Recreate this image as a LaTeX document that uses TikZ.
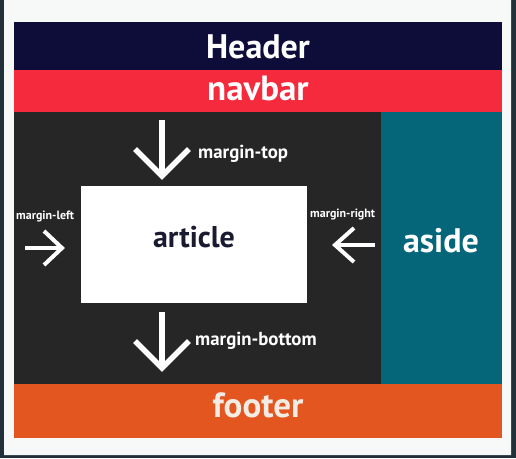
\documentclass[tikz,border=0pt]{standalone}
\usepackage{fontspec}
\usetikzlibrary{calc}
\setmainfont{PT Sans}
\definecolor{frame}{HTML}{22303A}
\definecolor{paper}{HTML}{F7F8F8}
\definecolor{hdr}{HTML}{0E0D3A}
\definecolor{nav}{HTML}{F52A3D}
\definecolor{mainbg}{HTML}{262626}
\definecolor{asidec}{HTML}{05667A}
\definecolor{foot}{HTML}{E4561F}
\definecolor{ink}{HTML}{1A1A30}
\definecolor{cream}{HTML}{F3ECE4}
\tikzset{
  box/.style={rectangle, inner sep=0pt, outer sep=0pt, anchor=north west},
  lbl/.style={inner sep=0pt, anchor=base, font=\bfseries, text=white},
  bigarrow/.style={draw=white, line width=5.5pt, line cap=butt, line join=miter},
  smallarrow/.style={draw=white, line width=4pt, line cap=butt, line join=miter},
}
\begin{document}
\begin{tikzpicture}[x=1pt, y=-1pt]
\useasboundingbox (0,0) rectangle (516,458);
\fill[frame] (0,0) rectangle (516,458);
\fill[paper] (4,0) -- (500,0) arc[start angle=90, end angle=0, radius=11] -- (511,455) -- (4,455) -- cycle;
% boxes
\node[box, fill=hdr, minimum width=488pt, minimum height=48pt] (header) at (14,22) {};
\node[box, fill=nav, minimum width=488pt, minimum height=42pt] (navbar) at (14,70) {};
\node[box, fill=mainbg, minimum width=367pt, minimum height=272pt] (main) at (14,112) {};
\node[box, fill=asidec, minimum width=121pt, minimum height=272pt] (aside) at (381,112) {};
\node[box, fill=foot, minimum width=488pt, minimum height=54pt] (footer) at (14,384) {};
\node[box, fill=white, minimum width=226pt, minimum height=117pt] (article) at (81,186) {};
% texts
\node[lbl, font=\bfseries\fontsize{34}{34}\selectfont] (tHeader) at (258,58) {Header};
\node[lbl, font=\bfseries\fontsize{35}{35}\selectfont] (tNav) at (258,100) {navbar};
\node[lbl, font=\bfseries\fontsize{30}{30}\selectfont, text=ink] (tArticle) at (194,247) {article};
\node[lbl, font=\bfseries\fontsize{34}{34}\selectfont] (tAside) at (441,252) {aside};
\node[lbl, font=\bfseries\fontsize{35}{35}\selectfont, text=cream] (tFooter) at (258,417) {footer};
\node[lbl, font=\bfseries\fontsize{18.8}{19}\selectfont, anchor=base west] (tTop) at (198,158) {margin-top};
\node[lbl, font=\bfseries\fontsize{18.8}{19}\selectfont, anchor=base west] (tBottom) at (195,345) {margin-bottom};
\node[lbl, font=\bfseries\fontsize{12}{12}\selectfont, anchor=base west] (tLeft) at (16,219) {margin-left};
\node[lbl, font=\bfseries\fontsize{12}{12}\selectfont, anchor=base west] (tRight) at (310,217) {margin-right};
% arrows
\coordinate (topS) at (162,120); \coordinate (topT) at (162,176);
\draw[bigarrow] (topS) -- (topT);
\draw[bigarrow] ($(topT)+(-27,-27)$) -- (topT) -- ($(topT)+(27,-27)$);
\coordinate (botS) at (162,312); \coordinate (botT) at (162,368);
\draw[bigarrow] (botS) -- (botT);
\draw[bigarrow] ($(botT)+(-27,-27)$) -- (botT) -- ($(botT)+(27,-27)$);
\coordinate (lS) at (25,248); \coordinate (lT) at (62,248);
\draw[smallarrow] (lS) -- (lT);
\draw[smallarrow] ($(lT)+(-18,-17)$) -- (lT) -- ($(lT)+(-18,17)$);
\coordinate (rS) at (375,245); \coordinate (rT) at (335,245);
\draw[smallarrow] (rS) -- (rT);
\draw[smallarrow] ($(rT)+(19,-17)$) -- (rT) -- ($(rT)+(19,17)$);
\end{tikzpicture}
\end{document}
